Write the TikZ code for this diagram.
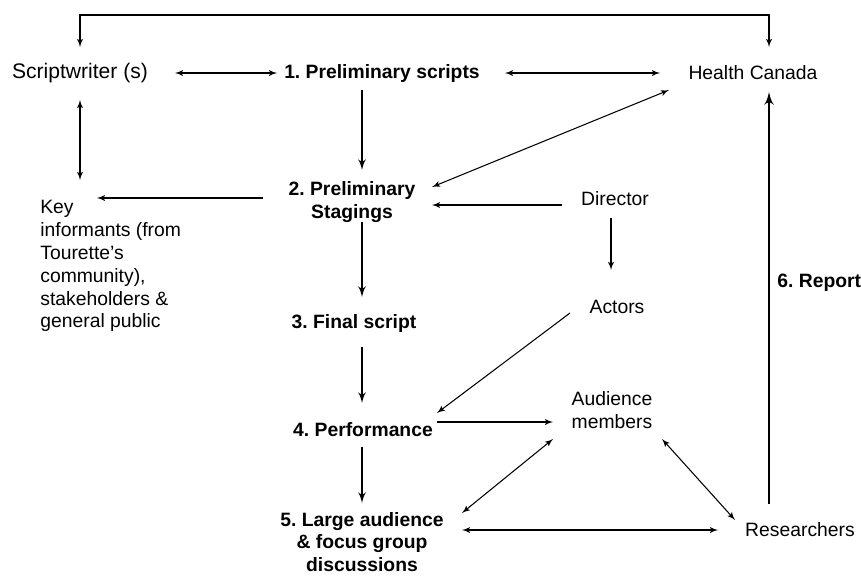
\documentclass[tikz,border=0pt]{standalone}
\usepackage{fontspec}
\setmainfont{Liberation Sans}
\frenchspacing
\usetikzlibrary{arrows}
\usetikzlibrary{calc}
\tikzset{every node/.style = {font=\fontsize{11}{13}\selectfont, inner sep=0pt},
         stage/.style = {font=\fontsize{11}{13}\selectfont\bfseries, align=center},
         link/.style = {line width=0.6pt},
         flow/.style = {->, line width=1.1pt}}

\begin{document}
\begin{tikzpicture}[x=0.02cm, y=-0.02cm, >=latex']
    \useasboundingbox (0, 0) rectangle (861, 575);
    % people and groups
    \node (writer) at (80, 73) [font=\fontsize{12}{14}\selectfont] {Scriptwriter (s)};
    \node (health) at (753, 73) {Health Canada};
    \node (informants) at (40, 200) [anchor=north west, align=left]
        {Key\\ informants (from\\ Tourette’s\\ community),\\ stakeholders \&\\ general public};
    \node (director) at (615, 199) {Director};
    \node (actors) at (617, 307) {Actors};
    \node (audience) at (612, 410) [align=center] {Audience\\ members};
    \node (researchers) at (800, 530) {Researchers};
    % stages
    \node (scripts) at (382, 73) [stage] {1. Preliminary scripts};
    \node (stagings) at (352, 202) [stage] {2. Preliminary\\ Stagings};
    \node (final) at (354, 323) [stage] {3. Final script};
    \node (performance) at (363, 430) [stage] {4. Performance};
    \node (discussions) at (362, 542) [stage] {5. Large audience\\ \& focus group\\ discussions};
    \node (report) at (777, 283) [stage, anchor=west] {6. Report};
    % connectors
    \draw [<->, link] ($(writer) + (0, -26)$) -- ++(0, -32) -| ($(health) + (16, -26)$);
    \draw [<->, link] ($(writer) + (95, 0)$) -- ($(scripts) + (-105, 0)$);
    \draw [<->, link] ($(scripts) + (123, 0)$) -- ($(health) + (-93, 0)$);
    \draw [<->, link] ($(writer) + (0, 27)$) -- ($(informants.north west) + (40, -20)$);
    \draw [->, link] ($(stagings) + (-89, -4)$) -- ($(informants.north west) + (57, -2)$);
    \draw [flow] ($(scripts) + (-20, 17)$) -- ($(stagings) + (10, -32)$);
    \draw [<->, link] ($(health) + (-84, 17)$) -- ($(stagings) + (80, -15)$);
    \draw [->, link] ($(director) + (-53, 6)$) -- ($(stagings) + (80, 3)$);
    \draw [->, link] ($(director) + (-4, 19)$) -- ($(actors) + (-6, -37)$);
    \draw [flow] ($(stagings) + (10, 20)$) -- ($(final) + (8, -26)$);
    \draw [flow] ($(final) + (8, 24)$) -- ($(performance) + (-1, -27)$);
    \draw [->, link] ($(actors) + (-47, 6)$) -- ($(performance) + (74, -17)$);
    \draw [->, link] ($(performance) + (74, -8)$) -- ($(audience) + (-59, 12)$);
    \draw [flow] ($(performance) + (-1, 17)$) -- ($(discussions) + (0, -39)$);
    \draw [<->, link] ($(audience) + (-59, 29)$) -- ($(discussions) + (100, -29)$);
    \draw [<->, link] ($(audience) + (50, 29)$) -- ($(researchers) + (-65, -10)$);
    \draw [<->, link] ($(discussions) + (100, -12)$) -- ($(researchers) + (-82, 0)$);
    \draw [->, line width=1.5pt] ($(researchers) + (-31, -26)$) -- ($(health) + (16, 19)$);
\end{tikzpicture}
\end{document}
